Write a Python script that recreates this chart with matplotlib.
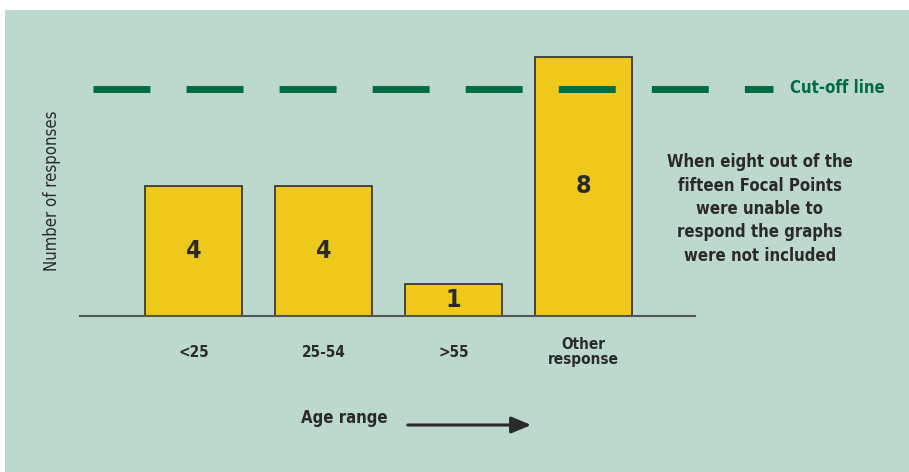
import matplotlib
matplotlib.use("Agg")
import matplotlib.pyplot as plt
from matplotlib.patches import Rectangle, FancyArrowPatch
from matplotlib.transforms import blended_transform_factory

categories = ["<25", "25-54", ">55", "Other\nresponse"]
values = [4, 4, 1, 8]
cutoff = 7
note = "When eight out of the\nfifteen Focal Points\nwere unable to\nrespond the graphs\nwere not included"

W, H = 909, 472
fig = plt.figure(figsize=(W / 100, H / 100), dpi=100)
fig.patch.set_facecolor("white")
bg = "#bdd9ce"
fig.patches.append(Rectangle((5 / W, 0), 1 - 5 / W, 1 - 10 / H, transform=fig.transFigure,
                             facecolor=bg, edgecolor="none", zorder=-10))

FONT = dict(family="DejaVu Sans", stretch="condensed")
DARK = "#2a2a2a"

# axes in pixel layout
ax_l, ax_r = 80, 695
ax_b, ax_t = 316, 30
ax = fig.add_axes([ax_l / W, 1 - ax_b / H, (ax_r - ax_l) / W, (ax_b - ax_t) / H])
ax.patch.set_alpha(0)
px_per_x = 130.0
x0 = -(193.5 - ax_l) / px_per_x
ax.set_xlim(x0, x0 + (ax_r - ax_l) / px_per_x)
px_per_y = 32.4
ax.set_ylim(0, (ax_b - ax_t) / px_per_y)

xs = list(range(len(categories)))
ax.bar(xs, values, width=0.746, color="#eec91c", edgecolor="#3a3a3a", linewidth=1.3, zorder=2)
for x, v in zip(xs, values):
    ax.text(x, v / 2, str(v), ha="center", va="center", fontsize=18, fontweight="bold",
            color=DARK, zorder=3, **FONT)

for s in ["top", "right", "left"]:
    ax.spines[s].set_visible(False)
ax.spines["bottom"].set_color("#555555")
ax.spines["bottom"].set_linewidth(1.5)
ax.set_yticks([])
ax.set_xticks(xs)
ax.set_xticklabels(categories, fontsize=11, fontweight="bold", color=DARK,
                   linespacing=1.05, **FONT)
for lab in ax.get_xticklabels():
    lab.set_va("center")
ax.tick_params(axis="x", length=0, pad=26)
ax.set_ylabel("Number of responses", fontsize=12, color=DARK, va="center", **FONT)
ax.yaxis.set_label_coords((52 - ax_l) / (ax_r - ax_l), (ax_b - 191) / (ax_b - ax_t))

# cut-off dashed line
tr = blended_transform_factory(fig.transFigure, ax.transData)
ln, = ax.plot([93 / W, 773 / W], [cutoff, cutoff], transform=tr, color="#006c46",
              linewidth=5, clip_on=False, solid_capstyle="butt", zorder=4)
ln.set_dashes((8.2, 5.2))
ln.set_dash_capstyle("butt")
fig.text(790 / W, 1 - 88 / H, "Cut-off line", ha="left", va="center", fontsize=12,
         fontweight="bold", color="#006c46", **FONT)

fig.text(760 / W, 1 - 209 / H, note, ha="center", va="center", fontsize=12,
         fontweight="bold", color=DARK, linespacing=1.38, **FONT)

fig.text(344 / W, 1 - 418 / H, "Age range", ha="center", va="center", fontsize=12,
         fontweight="bold", color=DARK, **FONT)
arr = FancyArrowPatch((405 / W, 1 - 425 / H), (534 / W, 1 - 425 / H), transform=fig.transFigure,
                      arrowstyle="-|>,head_length=12,head_width=5", mutation_scale=1,
                      color=DARK, linewidth=2.2)
fig.patches.append(arr)

fig.savefig("out.png", dpi=100, facecolor=fig.get_facecolor())
